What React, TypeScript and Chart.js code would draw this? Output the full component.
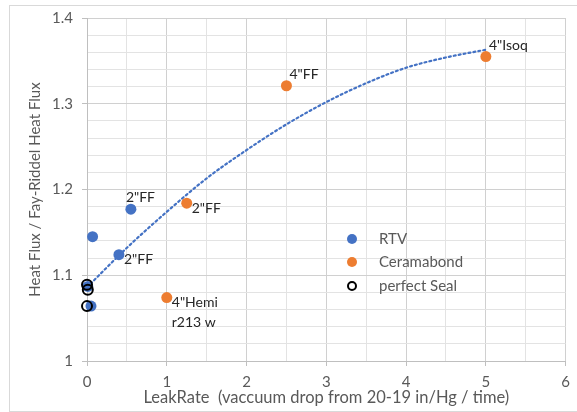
import React, { useEffect, useRef } from 'react';
import { Chart, registerables } from 'chart.js';

Chart.register(...registerables);

// ---- data ----
const rtvX = [0.55, 0.07, 0.4, 0.05, 0.01];
const rtvY = [1.177, 1.145, 1.124, 1.064, 1.087];
const rtvLabels = ['2"FF', '', '2"FF', '', ''];
const rtvLabelPlace = ['above', '', 'right', '', ''];

const ceramX = [1.25, 1.0, 2.5, 5.0];
const ceramY = [1.184, 1.074, 1.321, 1.355];
const ceramLabels = ['2"FF', '4"Hemi\nr213 w', '4"FF', '4"Isoq'];
const ceramLabelPlace = ['right', 'right', 'aboveRight', 'aboveRight'];

const sealX = [0.0, 0.01, 0.0];
const sealY = [1.089, 1.083, 1.064];

const trendX = [0, 0.5, 1, 1.5, 2, 2.5, 3, 3.5, 4, 4.5, 5];
const trendY = [1.086, 1.132, 1.174, 1.213, 1.246, 1.276, 1.302, 1.324, 1.342, 1.354, 1.363];

const seriesNames = ['RTV', 'Ceramabond', 'perfect Seal'];
const xTitle = 'LeakRate  (vaccuum drop from 20-19 in/Hg / time)';
const yTitle = 'Heat Flux / Fay-Riddel Heat Flux';

const BLUE = '#4472C4';
const ORANGE = '#ED7D31';
const FONT = 'Lato, "Open Sans", sans-serif';
const TEXT = '#595959';
const MAJOR = '#d0d0d0';
const MINOR = '#e3e3e3';

const isMult = (v: number, step: number) => Math.abs(v / step - Math.round(v / step)) < 1e-6;

const labelPlugin = {
  id: 'pointLabels',
  afterDatasetsDraw(chart: any) {
    const ctx = chart.ctx;
    ctx.save();
    ctx.font = `14px ${FONT}`;
    ctx.fillStyle = '#262626';
    ctx.textBaseline = 'middle';
    ctx.textAlign = 'left';
    chart.data.datasets.forEach((ds: any, di: number) => {
      if (!ds.pointLabels) return;
      const meta = chart.getDatasetMeta(di);
      meta.data.forEach((el: any, i: number) => {
        const txt = ds.pointLabels[i];
        if (!txt) return;
        const place = ds.labelPlace[i];
        let dx = 5, dy = 5;
        if (place === 'above') { dx = -5; dy = -12; }
        else if (place === 'aboveRight') { dx = 3; dy = -11; }
        const lines = String(txt).split('\n');
        lines.forEach((ln, li) => {
          ctx.fillText(ln, el.x + dx, el.y + dy + li * 20);
        });
      });
    });
    ctx.restore();
  },
};

const legendPlugin = {
  id: 'insideLegend',
  afterDraw(chart: any) {
    const ctx = chart.ctx;
    ctx.save();
    ctx.font = `15px ${FONT}`;
    ctx.textBaseline = 'middle';
    ctx.textAlign = 'left';
    const mx = 352, tx = 379, ys = [239, 262, 286];
    const items = chart.data.datasets.filter((d: any) => d.legendIndex !== undefined)
      .sort((a: any, b: any) => a.legendIndex - b.legendIndex);
    items.forEach((ds: any, i: number) => {
      const y = ys[i];
      ctx.beginPath();
      if (ds.hollow) {
        ctx.arc(mx, y, 4, 0, Math.PI * 2);
        ctx.lineWidth = 2;
        ctx.strokeStyle = '#000';
        ctx.stroke();
      } else {
        ctx.arc(mx, y, 5, 0, Math.PI * 2);
        ctx.fillStyle = ds.backgroundColor;
        ctx.fill();
      }
      ctx.fillStyle = TEXT;
      ctx.fillText(ds.label, tx, y);
    });
    ctx.restore();
  },
};

export default function App() {
  const ref = useRef<HTMLCanvasElement | null>(null);

  useEffect(() => {
    if (!ref.current) return;
    const toPts = (xs: number[], ys: number[]) => xs.map((x, i) => ({ x, y: ys[i] }));
    const chart = new Chart(ref.current, {
      type: 'scatter',
      data: {
        datasets: [
          {
            label: seriesNames[2],
            data: toPts(sealX, sealY),
            backgroundColor: 'rgba(0,0,0,0)',
            borderColor: '#000',
            borderWidth: 2,
            pointRadius: 5,
            order: 0,
            clip: false,
            legendIndex: 2,
            hollow: true,
          } as any,
          {
            label: seriesNames[0],
            data: toPts(rtvX, rtvY),
            backgroundColor: BLUE,
            borderColor: BLUE,
            borderWidth: 0,
            pointRadius: 5.5,
            order: 1,
            clip: false,
            pointLabels: rtvLabels,
            labelPlace: rtvLabelPlace,
            legendIndex: 0,
          } as any,
          {
            label: seriesNames[1],
            data: toPts(ceramX, ceramY),
            backgroundColor: ORANGE,
            borderColor: ORANGE,
            borderWidth: 0,
            pointRadius: 5.5,
            order: 2,
            clip: false,
            pointLabels: ceramLabels,
            labelPlace: ceramLabelPlace,
            legendIndex: 1,
          } as any,
          {
            label: 'trend',
            data: toPts(trendX, trendY),
            showLine: true,
            borderColor: BLUE,
            borderWidth: 2.2,
            borderDash: [2, 3],
            borderCapStyle: 'round',
            pointRadius: 0,
            cubicInterpolationMode: 'monotone',
            order: 3,
            clip: false,
          } as any,
        ],
      },
      options: {
        animation: false,
        responsive: false,
        layout: { padding: { top: 16, right: 7, left: 0, bottom: 0 } },
        plugins: { legend: { display: false }, tooltip: { enabled: false } },
        scales: {
          x: {
            type: 'linear',
            min: 0,
            max: 6,
            ticks: {
              stepSize: 0.5,
              autoSkip: false,
              maxRotation: 0,
              padding: 7,
              color: TEXT,
              font: { family: FONT, size: 15 },
              callback: (v: any) => (isMult(Number(v), 1) ? String(Math.round(Number(v))) : ''),
            },
            grid: {
              color: (c: any) => (isMult(c.tick.value, 1) ? MAJOR : MINOR),
              tickColor: (c: any) => (isMult(c.tick.value, 1) ? '#bfbfbf' : 'rgba(0,0,0,0)'),
              tickLength: 5,
            },
            border: { color: '#bfbfbf', width: 1 },
            title: {
              display: true,
              text: xTitle,
              color: TEXT,
              font: { family: FONT, size: 16.5 },
              padding: { top: 0, bottom: 4 },
            },
            afterFit: (s: any) => { s.height = 51; },
          },
          y: {
            type: 'linear',
            min: 1,
            max: 1.4,
            ticks: {
              stepSize: 0.02,
              autoSkip: false,
              padding: 9,
              color: TEXT,
              font: { family: FONT, size: 15 },
              callback: (v: any) => {
                const n = Number(v);
                if (!isMult(n, 0.1)) return '';
                const r = Math.round(n * 10) / 10;
                return r === 1 ? '1' : r.toFixed(1);
              },
            },
            grid: {
              color: (c: any) => (isMult(c.tick.value, 0.1) ? MAJOR : MINOR),
              tickColor: (c: any) => (isMult(c.tick.value, 0.1) ? '#bfbfbf' : 'rgba(0,0,0,0)'),
              tickLength: 5,
            },
            border: { color: '#bfbfbf', width: 1 },
            title: {
              display: true,
              text: yTitle,
              color: TEXT,
              font: { family: FONT, size: 15 },
              padding: { top: 26, bottom: 0 },
            },
            afterFit: (s: any) => { s.width = 87; },
          },
        },
      } as any,
      plugins: [labelPlugin, legendPlugin],
    });
    return () => chart.destroy();
  }, []);

  return (
    <div style={{ position: 'fixed', left: 0, top: 0, width: 577, height: 412, background: '#fff', overflow: 'hidden' }}>
      <canvas ref={ref} width={577} height={412} style={{ position: 'absolute', left: 0, top: 0 }} />
      <div
        style={{
          position: 'absolute', left: 9, top: 5, width: 600, height: 405,
          borderLeft: '1px solid #d9d9d9', borderTop: '1px solid #d9d9d9', borderBottom: '1px solid #d9d9d9',
          pointerEvents: 'none',
        }}
      />
    </div>
  );
}
